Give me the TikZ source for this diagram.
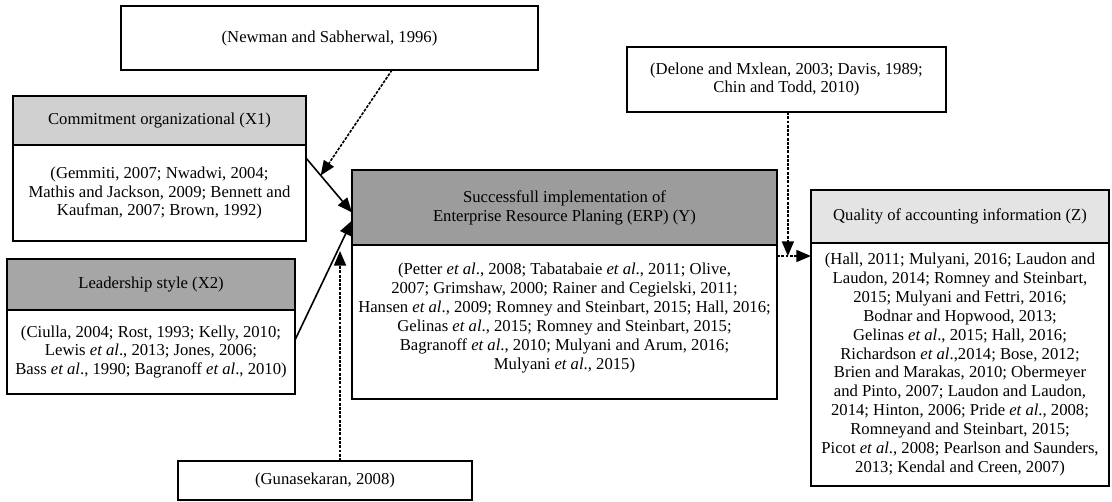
\documentclass[tikz,border=0pt]{standalone}
\usepackage{fontspec}
\setmainfont{Liberation Serif}
\usepackage{xcolor}
\usepackage{tikz}
\usetikzlibrary{arrows.meta,positioning}
\definecolor{erpink}{HTML}{000000}
\definecolor{hdrlight}{HTML}{D0D0D0}
\definecolor{hdrmid}{HTML}{A6A6A6}
\definecolor{hdrdark}{HTML}{9C9C9C}
\definecolor{hdrpale}{HTML}{E4E4E4}
\newcommand{\etal}{\textit{et al}.}

\begin{document}
\begin{tikzpicture}[
  x=0.75pt,y=-0.75pt,
  every node/.style={font=\fontsize{12.5pt}{14.2pt}\selectfont,align=center},
  box/.style={draw=erpink,line width=1.4pt,inner sep=2pt,outer sep=0pt,fill=white},
  arrow/.style={-{Triangle[length=11pt,width=9pt]},line width=1.2pt,color=erpink},
  dotarrow/.style={arrow,dash pattern=on 2.2pt off 1pt}
]
\useasboundingbox (0,0) rectangle (1112,501);
% reference boxes
\node[box,anchor=north west,minimum width=312.75pt,minimum height=48pt] (newman) at (121,6) {(Newman and Sabherwal, 1996)};
\node[box,anchor=north west,minimum width=239.25pt,minimum height=48.75pt] (delone) at (627,47) {(Delone and Mxlean, 2003; Davis, 1989;\\Chin and Todd, 2010)};
\node[box,anchor=north west,minimum width=220.5pt,minimum height=29.25pt] (guna) at (178,461) {(Gunasekaran, 2008)};
% variables
\node[box,fill=hdrlight,anchor=north west,minimum width=219.75pt,minimum height=36.75pt] (x1h) at (13,96) {Commitment organizational (X1)};
\node[box,below=0pt of x1h,minimum width=219.75pt,minimum height=72pt] (x1b) {(Gemmiti, 2007; Nwadwi, 2004;\\Mathis and Jackson, 2009; Bennett and\\Kaufman, 2007; Brown, 1992)};
\node[box,fill=hdrmid,anchor=north west,minimum width=216pt,minimum height=38.25pt] (x2h) at (7,259) {Leadership style (X2)};
\node[box,below=0pt of x2h,minimum width=216pt,minimum height=63pt] (x2b) {(Ciulla, 2004; Rost, 1993; Kelly, 2010;\\Lewis \etal, 2013; Jones, 2006;\\Bass \etal, 1990; Bagranoff \etal, 2010)};
\node[box,fill=hdrdark,anchor=north west,minimum width=318.75pt,minimum height=56.25pt] (yh) at (352,170) {Successfull implementation of\\Enterprise Resource Planing (ERP) (Y)};
\node[box,below=0pt of yh,minimum width=318.75pt,minimum height=115.5pt] (yb) {(Petter \etal, 2008; Tabatabaie \etal, 2011; Olive,\\2007; Grimshaw, 2000; Rainer and Cegielski, 2011;\\Hansen \etal, 2009; Romney and Steinbart, 2015; Hall, 2016;\\Gelinas \etal, 2015; Romney and Steinbart, 2015;\\Bagranoff \etal, 2010; Mulyani and Arum, 2016;\\Mulyani \etal, 2015)\\[-6pt]};
\node[box,fill=hdrpale,anchor=north west,minimum width=223.5pt,minimum height=39.75pt] (zh) at (811,190) {Quality of accounting information (Z)};
\node[box,below=0pt of zh,minimum width=223.5pt,minimum height=182.25pt] (zb) {(Hall, 2011; Mulyani, 2016; Laudon and\\Laudon, 2014; Romney and Steinbart,\\2015; Mulyani and Fettri, 2016;\\Bodnar and Hopwood, 2013;\\Gelinas \etal, 2015; Hall, 2016;\\Richardson \etal,2014; Bose, 2012;\\Brien and Marakas, 2010; Obermeyer\\and Pinto, 2007; Laudon and Laudon,\\2014; Hinton, 2006; Pride \etal, 2008;\\Romneyand and Steinbart, 2015;\\Picot \etal, 2008; Pearlson and Saunders,\\2013; Kendal and Creen, 2007)};
% connectors
\draw[arrow] ([yshift=-9.75pt]x1b.north east) -- coordinate[pos=.32] (x1mid) ([yshift=-3.75pt]yh.west);
\draw[arrow] ([yshift=9pt]x2b.east) -- coordinate[pos=.79] (x2mid) ([yshift=-9.75pt]yh.west);
\coordinate (yz) at ([yshift=-8.25pt]yb.north east);
\draw[dotarrow] (yz) -- coordinate[pos=.32] (yzmid) (yz -| zb.west);
\draw[dotarrow] ([xshift=46.9pt]newman.south) -- (x1mid);
\draw[dotarrow,shorten >=4pt] (x2mid |- guna.north) -- (x2mid);
\draw[dotarrow] (yzmid |- delone.south) -- (yzmid);
\end{tikzpicture}
\end{document}
